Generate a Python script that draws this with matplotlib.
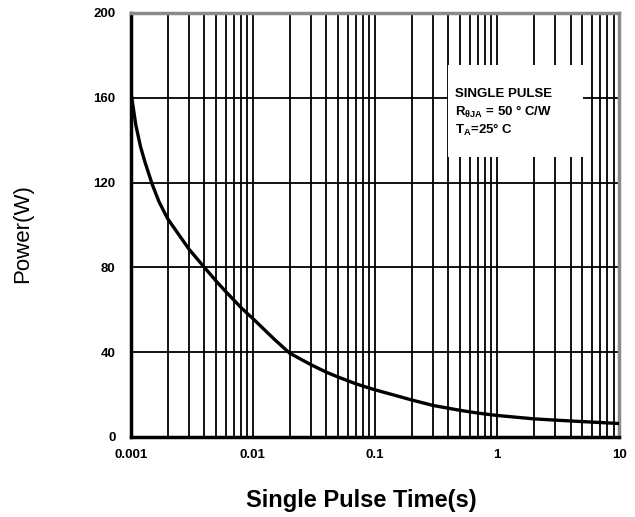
import matplotlib
matplotlib.use("Agg")
import matplotlib.pyplot as plt
from matplotlib.patches import Rectangle
from matplotlib.ticker import FixedLocator, NullFormatter

plt.rcParams['font.family'] = ['Liberation Sans', 'DejaVu Sans']
plt.rcParams['mathtext.fontset'] = 'custom'
plt.rcParams['mathtext.rm'] = 'Liberation Sans:bold'
plt.rcParams['mathtext.it'] = 'Liberation Sans:bold'
plt.rcParams['mathtext.bf'] = 'Liberation Sans:bold'
plt.rcParams['mathtext.default'] = 'regular'

# Data
time_s = [0.001, 0.0011, 0.0012, 0.0013, 0.0015, 0.0017, 0.002, 0.0025, 0.003,
          0.004, 0.005, 0.006, 0.007, 0.008, 0.009, 0.01, 0.015, 0.02, 0.03,
          0.04, 0.05, 0.07, 0.1, 0.15, 0.2, 0.3, 0.5, 0.7, 1, 2, 3, 5, 10]
power_w = [163, 147, 137, 130, 119, 111, 103, 95, 88.5,
           80, 73.5, 68.5, 64.5, 61, 58.2, 55.8, 46, 39.5, 34,
           30.5, 28.2, 25, 22.2, 19.4, 17.4, 14.8, 12.5, 11.2, 10.1, 8.5, 7.9, 7.2, 6.3]

x_ticks = [0.001, 0.01, 0.1, 1, 10]
x_tick_labels = ["0.001", "0.01", "0.1", "1", "10"]
y_ticks = [0, 40, 80, 120, 160, 200]

fig = plt.figure(figsize=(6.35, 5.17), dpi=100)
ax = fig.add_axes([0.206, 0.155, 0.769, 0.820])

ax.set_xscale('log')
ax.set_xlim(0.001, 10)
ax.set_ylim(0, 200)

# grid
minor = [m * 10.0 ** e for e in range(-3, 1) for m in range(2, 10)]
ax.xaxis.set_major_locator(FixedLocator(x_ticks))
ax.xaxis.set_minor_locator(FixedLocator(minor))
ax.xaxis.set_minor_formatter(NullFormatter())
ax.set_xticklabels(x_tick_labels)
ax.set_yticks(y_ticks)
ax.grid(True, which='both', axis='x', color='black', lw=1.3)
ax.grid(True, which='major', axis='y', color='black', lw=1.3)
ax.set_axisbelow(True)

ax.tick_params(which='both', length=0)
ax.tick_params(axis='x', pad=9, labelsize=9.5)
ax.tick_params(axis='y', pad=11, labelsize=9.5)
for lbl in ax.get_xticklabels() + ax.get_yticklabels():
    lbl.set_fontweight('bold')

for side in ['left', 'bottom']:
    ax.spines[side].set_color('black')
    ax.spines[side].set_linewidth(2.5)
for side in ['top', 'right']:
    ax.spines[side].set_color('#8a8a8a')
    ax.spines[side].set_linewidth(2.5)

ax.plot(time_s, power_w, color='black', lw=2.4, zorder=3, solid_capstyle='round')

# annotation box
ax.add_patch(Rectangle((0.65, 0.66), 0.276, 0.217, transform=ax.transAxes,
                       facecolor='white', edgecolor='none', zorder=2.5))
kw = dict(transform=ax.transAxes, fontsize=9.5, fontweight='bold', ha='left',
          va='center', zorder=4)
ax.text(0.664, 0.809, "SINGLE PULSE", **kw)
ax.text(0.664, 0.767, r"R$_{θJA}$ = 50 ° C/W", **kw)
ax.text(0.664, 0.724, r"T$_{A}$=25° C", **kw)

ax.set_xlabel("Single Pulse Time(s)", fontsize=17, fontweight='bold')
ax.xaxis.set_label_coords(0.472, -0.122)
ax.set_ylabel("Power(W)", fontsize=16, fontweight='normal')
ax.yaxis.set_label_coords(-0.200, 0.479)

fig.savefig("out.png", dpi=100, facecolor='white')
